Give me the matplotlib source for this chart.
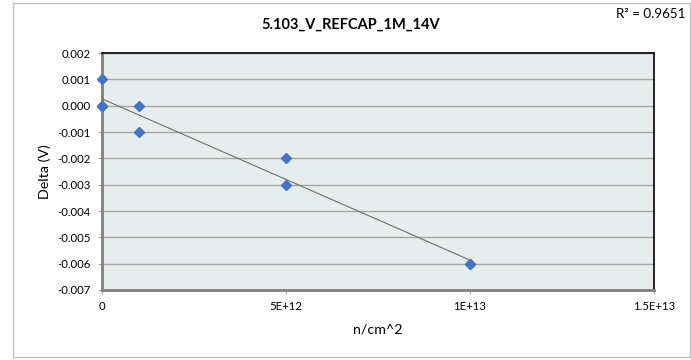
import numpy as np
import matplotlib
matplotlib.use('Agg')
import matplotlib.pyplot as plt
from matplotlib.patches import Rectangle

plt.rcParams['font.family'] = ['Lato', 'DejaVu Sans']

# fluence (n/cm^2) and delta (V); repeated points overlap in the chart
fluence = [0, 0, 0, 0, 1e12, 1e12, 5e12, 5e12, 1e13, 1e13]
delta = [0.001, 0.0, 0.0, 0.0, 0.0, -0.001, -0.002, -0.003, -0.006, -0.006]
x_ticks = [0, 5e12, 1e13, 1.5e13]
x_tick_labels = ['0', '5E+12', '1E+13', '1.5E+13']
y_ticks = [-0.007, -0.006, -0.005, -0.004, -0.003, -0.002, -0.001, 0.0, 0.001, 0.002]
y_tick_labels = ['-0.007', '-0.006', '-0.005', '-0.004', '-0.003', '-0.002',
                 '-0.001', '0.000', '0.001', '0.002']
r2_label = 'R² = 0.9651'

fig = plt.figure(figsize=(6.91, 3.6), dpi=100)
fig.patches.append(Rectangle((13 / 691, 3 / 360), 677 / 691, 354 / 360,
                             transform=fig.transFigure, fill=False,
                             edgecolor='#BFBFBF', lw=1))

ax = fig.add_axes([102 / 691, 70 / 360, 552 / 691, 237 / 360])
ax.set_facecolor('#E7ECEC')

# linear trendline over the data range
slope, icpt = np.polyfit(fluence, delta, 1)
xs = np.array([min(fluence), max(fluence)])
ax.plot(xs, slope * xs + icpt, color='#707070', lw=0.8, zorder=3)

ax.plot(fluence, delta, linestyle='none', marker='D', markersize=5.5,
        color='#4472C4', zorder=4, clip_on=False)

ax.set_xlim(0, 1.5e13)
ax.set_ylim(-0.007, 0.002)
ax.set_xticks(x_ticks)
ax.set_xticklabels(x_tick_labels)
ax.set_yticks(y_ticks)
ax.set_yticklabels(y_tick_labels)
ax.grid(axis='y', color='#A6A6A6', lw=1)
ax.set_axisbelow(True)
ax.tick_params(axis='both', labelsize=8.2, length=3, color='#A6A6A6', pad=5)

for side in ['top', 'right']:
    ax.spines[side].set_color('black')
    ax.spines[side].set_linewidth(1.2)
for side in ['left', 'bottom']:
    ax.spines[side].set_color('#808080')
    ax.spines[side].set_linewidth(2)

ax.set_xlabel('n/cm^2', fontsize=10.3, labelpad=8)
ax.set_ylabel('Delta (V)', fontsize=10.3, labelpad=5)
fig.text(351 / 691, 1 - 25 / 360, '5.103_V_REFCAP_1M_14V', ha='center',
         va='center', fontsize=10.5, fontweight='bold')
fig.text(651 / 691, 1 - 14 / 360, r2_label, ha='center', va='center', fontsize=9.6)

fig.savefig('out.png', dpi=100)
